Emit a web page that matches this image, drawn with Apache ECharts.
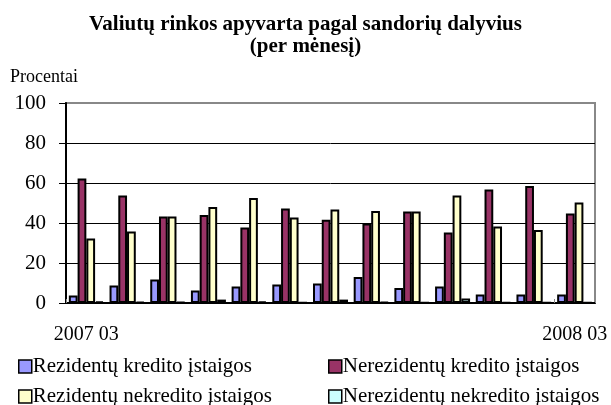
<!DOCTYPE html>
<html>
<head>
<meta charset="utf-8">
<script src="https://cdn.jsdelivr.net/npm/echarts@6/dist/echarts.min.js"></script>
<style>html,body{margin:0;padding:0;background:#fff;}#c{width:611px;height:405px;}</style>
</head>
<body>
<div id="c"></div>
<script>
var categories = ['2007 03','2007 04','2007 05','2007 06','2007 07','2007 08','2007 09','2007 10','2007 11','2007 12','2008 01','2008 02','2008 03'];
var seriesNames = ['Rezidentų kredito įstaigos','Nerezidentų kredito įstaigos','Rezidentų nekredito įstaigos','Nerezidentų nekredito įstaigos'];
var rezKredito = [3.8, 8.8, 11.7, 6.2, 8.2, 9.2, 9.8, 13.0, 7.5, 8.3, 4.3, 4.2, 4.2];
var nerezKredito = [62.2, 53.8, 43.3, 44.0, 37.8, 47.2, 41.6, 39.7, 45.7, 35.2, 56.7, 58.5, 44.7];
var rezNekredito = [32.3, 35.8, 43.3, 48.0, 52.5, 42.7, 46.7, 46.0, 45.7, 53.7, 38.2, 36.5, 50.2];
var nerezNekredito = [0.8, 0.6, 0.5, 1.7, 0.7, 0.3, 1.7, 0.5, 0.3, 2.3, 0.3, 0.3, 0.3];
var yTicks = [0, 20, 40, 60, 80, 100];

var colors = ['#9999FF', '#993366', '#FFFFCC', '#CCFFFF'];
var font = 'Liberation Serif, Times New Roman, serif';
var dataSets = [rezKredito, nerezKredito, rezNekredito, nerezNekredito];

function legendAt(name, left, top) {
  return {
    data: [name], orient: 'horizontal', left: left, top: top, padding: 0,
    itemWidth: 13, itemHeight: 13, icon: 'rect', itemGap: 0,
    itemStyle: {borderColor: '#000', borderWidth: 1.5},
    textStyle: {fontFamily: font, fontSize: 21, color: '#000', padding: [0,0,0,-4]}
  };
}

var chart = echarts.init(document.getElementById('c'), null, {renderer: 'canvas'});
var option = {
  animation: false,
  color: colors,
  title: {
    text: 'Valiutų rinkos apyvarta pagal sandorių dalyvius\n(per mėnesį)',
    left: 'center',
    top: 9,
    textStyle: {fontFamily: font, fontWeight: 'bold', fontSize: 21, lineHeight: 22, color: '#000'}
  },
  graphic: [{
    type: 'text', left: 10, top: 68,
    style: {text: 'Procentai', font: '18px ' + font, fill: '#000'}
  }],
  legend: [
    legendAt(seriesNames[0], 18, 356),
    legendAt(seriesNames[1], 328, 356),
    legendAt(seriesNames[2], 18, 386),
    legendAt(seriesNames[3], 328, 386)
  ],
  grid: {left: 66, right: 16, top: 103, bottom: 102, show: true, borderColor: '#888', borderWidth: 2, containLabel: false},
  xAxis: {
    type: 'category',
    data: categories,
    axisLine: {lineStyle: {color: '#000', width: 2}},
    axisTick: {show: true, inside: true, length: 4, lineStyle: {color: '#888', width: 1}},
    axisLabel: {
      interval: function (i) { return i === 0 || i === categories.length - 1; },
      fontFamily: font, fontSize: 20, color: '#000', margin: 22
    },
    splitLine: {show: false}
  },
  yAxis: {
    type: 'value', min: yTicks[0], max: yTicks[yTicks.length - 1], interval: 20,
    axisLine: {show: true, lineStyle: {color: '#000', width: 2}},
    axisTick: {show: true, length: 7, lineStyle: {color: '#000', width: 1}},
    axisLabel: {fontFamily: font, fontSize: 21, color: '#000', margin: 20},
    splitLine: {show: true, lineStyle: {color: ['#000','#000','#000','#000','#000','rgba(0,0,0,0)'], width: 1}}
  },
  series: seriesNames.map(function (n, i) {
    return {
      name: n, type: 'bar', data: dataSets[i],
      barGap: '0%', barCategoryGap: '14%',
      itemStyle: {color: colors[i], borderColor: '#000', borderWidth: 2}
    };
  })
};
chart.setOption(option);
</script>
</body>
</html>
